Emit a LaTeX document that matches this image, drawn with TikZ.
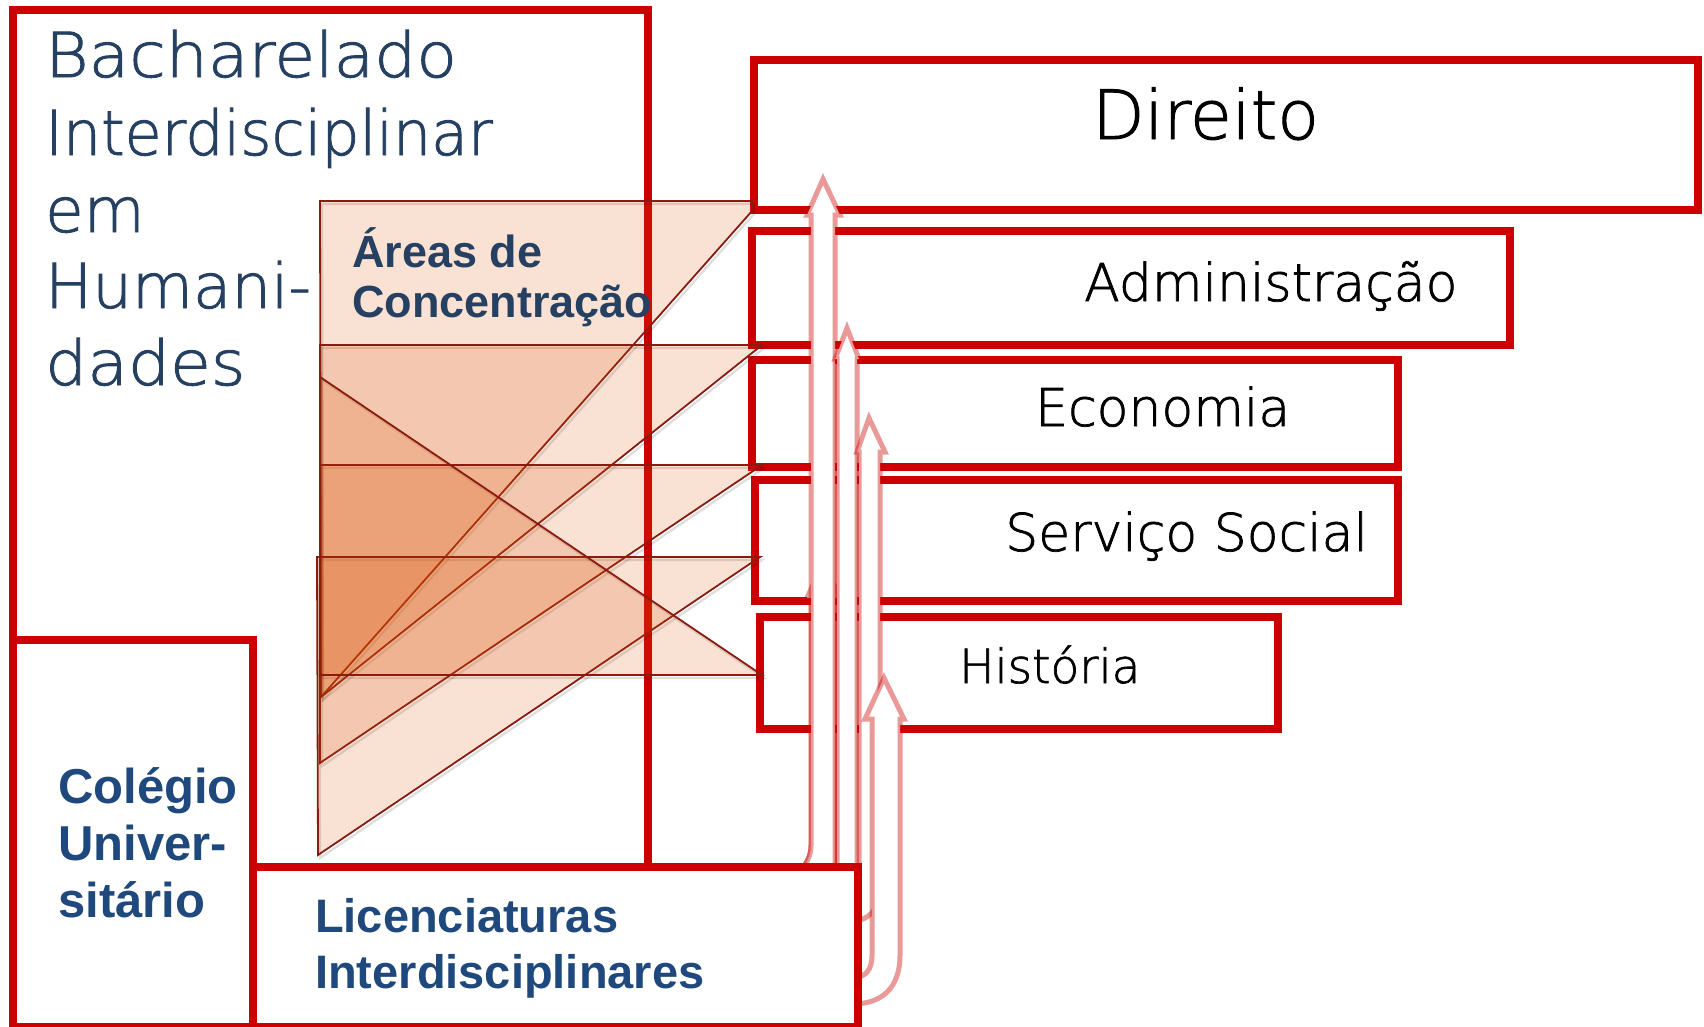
\documentclass[tikz,border=0pt]{standalone}
\usepackage{fontspec}
\setmainfont{Liberation Sans}
\newfontfamily\thinfont{DejaVuSans-ExtraLight.ttf}[FakeBold=1.4]
\newfontfamily\bachwide{DejaVuSans-ExtraLight.ttf}[FakeStretch=1.07,FakeBold=1.4]
\newfontfamily\bachmid{DejaVuSans-ExtraLight.ttf}[FakeStretch=1.01,FakeBold=1.4]
\newfontfamily\bachnarrow{DejaVuSans-ExtraLight.ttf}[FakeStretch=0.97,FakeBold=1.4]
\definecolor{boxred}{HTML}{CC0000}
\definecolor{edgered}{HTML}{8B1A10}
\definecolor{trifill}{HTML}{DC5000}
\definecolor{navy}{HTML}{264062}
\definecolor{bluetxt}{HTML}{1F497D}
\begin{document}
\begin{tikzpicture}[x=1pt,y=-1pt,
  redbox/.style={draw=boxred, line width=8pt, fill=white, inner sep=0pt, outer sep=0pt, anchor=north west},
  tri/.style={fill=trifill, fill opacity=0.17, draw=edgered, draw opacity=1, line width=1.8pt, line join=miter},
  trishadow/.style={draw=black, draw opacity=0.13, line width=2.2pt},
  uparrow/.style={fill=white, draw=boxred, draw opacity=0.4, line width=5pt, line join=miter},
  bachtxt/.style={anchor=base west, inner sep=0pt, text=navy},
  lbl/.style={anchor=base west, inner sep=0pt, text=black, font=\thinfont\fontsize{52}{52}\selectfont},
  areatxt/.style={anchor=base west, inner sep=0pt, text=navy, font=\bfseries\fontsize{45}{45}\selectfont},
  bluebold/.style={anchor=base west, inner sep=0pt, text=bluetxt, font=\bfseries\fontsize{49}{49}\selectfont}]
\useasboundingbox (0,0) rectangle (1704,1026);

% big boxes on the left
\node[redbox, minimum width=635pt, minimum height=990pt] (bach) at (13,10) {};
\node[redbox, minimum width=240pt, minimum height=387pt] (coleg) at (13,640) {};

% course boxes on the right
\node[redbox, minimum width=944pt, minimum height=150pt] (direito) at (754,60) {};
\node[redbox, minimum width=758pt, minimum height=114pt] (admin) at (752,231) {};
\node[redbox, minimum width=646pt, minimum height=107pt] (econ) at (752,360) {};
\node[redbox, minimum width=643pt, minimum height=121pt] (serv) at (755,480) {};
\node[redbox, minimum width=518pt, minimum height=112pt] (hist) at (760,617) {};

% shadows of the triangles
\begin{scope}[shift={(2,3)}]
\draw[trishadow] (320,201) -- (752,201) -- (752,211) -- (321,697) -- cycle;
\draw[trishadow] (320,345) -- (762,345) -- (321,697) -- cycle;
\draw[trishadow] (320,465) -- (762,465) -- (320,763) -- cycle;
\draw[trishadow] (317,557) -- (760,557) -- (318,855) -- cycle;
\draw[trishadow] (320,377) -- (762,675) -- (320,675) -- cycle;
\end{scope}

% translucent triangles
\draw[tri] (320,201) -- (752,201) -- (752,211) -- (321,697) -- cycle;
\draw[tri] (320,345) -- (762,345) -- (321,697) -- cycle;
\draw[tri] (320,465) -- (762,465) -- (320,763) -- cycle;
\draw[tri] (317,557) -- (760,557) -- (318,855) -- cycle;
\draw[tri] (320,377) -- (762,675) -- (320,675) -- cycle;

% block arrows
\draw[uparrow] (790,1000) -- (790,880) .. controls (800,872) and (811,862) .. (811,845) -- (811,598) -- (807,598) -- (823,562) -- (840,598) -- (835,598) -- (835,1000) -- cycle;
\draw[uparrow] (790,1000) -- (790,880) .. controls (800,872) and (811,862) .. (811,845) -- (811,215) -- (807,215) -- (823,179) -- (840,215) -- (835,215) -- (835,1000) -- cycle;
\draw[uparrow] (837,1000) -- (837,359) -- (835,359) -- (847,328) -- (859,359) -- (857,359) -- (857,1000) -- cycle;
\draw[uparrow] (850,922) -- (850,905) -- (859,905) -- (859,452) -- (857,452) -- (869,418) -- (885,452) -- (880,452) -- (880,885) .. controls (880,910) and (870,920) .. (850,922) -- cycle;
\draw[uparrow] (855,978) .. controls (866,976) and (872,970) .. (872,955) -- (872,719) -- (865,719) -- (884,678) -- (904,719) -- (900,719) -- (900,955) .. controls (900,990) and (880,1003) .. (855,1004) -- cycle;

% bottom box
\node[redbox, minimum width=605pt, minimum height=160pt] (lic) at (253,867) {};

% texts
\node[bachtxt, font=\bachwide\fontsize{62}{62}\selectfont] (b1) at (45,77) {Bacharelado};
\node[bachtxt, font=\bachnarrow\fontsize{62}{62}\selectfont] (b2) at (45,155) {Interdisciplinar};
\node[bachtxt, font=\bachmid\fontsize{62}{62}\selectfont] (b3) at (45,232) {em};
\node[bachtxt, font=\bachmid\fontsize{62}{62}\selectfont] (b4) at (45,308) {Humani-};
\node[bachtxt, font=\bachwide\fontsize{62}{62}\selectfont] (b5) at (45,385) {dades};

\node[areatxt] (a1) at (352,267) {Áreas de};
\node[areatxt] (a2) at (352,317) {Concentração};

\node[lbl, font=\thinfont\fontsize{68}{68}\selectfont] (tdireito) at (1092,139) {Direito};
\node[lbl] (tadmin) at (1084,301) {Administração};
\node[lbl] (tecon) at (1035,426) {Economia};
\node[lbl] (tserv) at (1005,551) {Serviço Social};
\node[lbl, font=\thinfont\fontsize{47}{47}\selectfont] (thist) at (959,683) {História};

\node[bluebold] (c1) at (58,803) {Colégio};
\node[bluebold] (c2) at (58,860) {Univer-};
\node[bluebold] (c3) at (58,917) {sitário};

\node[bluebold, font=\bfseries\fontsize{47}{47}\selectfont] (l1) at (315,932) {Licenciaturas};
\node[bluebold, font=\bfseries\fontsize{47}{47}\selectfont] (l2) at (315,988) {Interdisciplinares};
\end{tikzpicture}
\end{document}
